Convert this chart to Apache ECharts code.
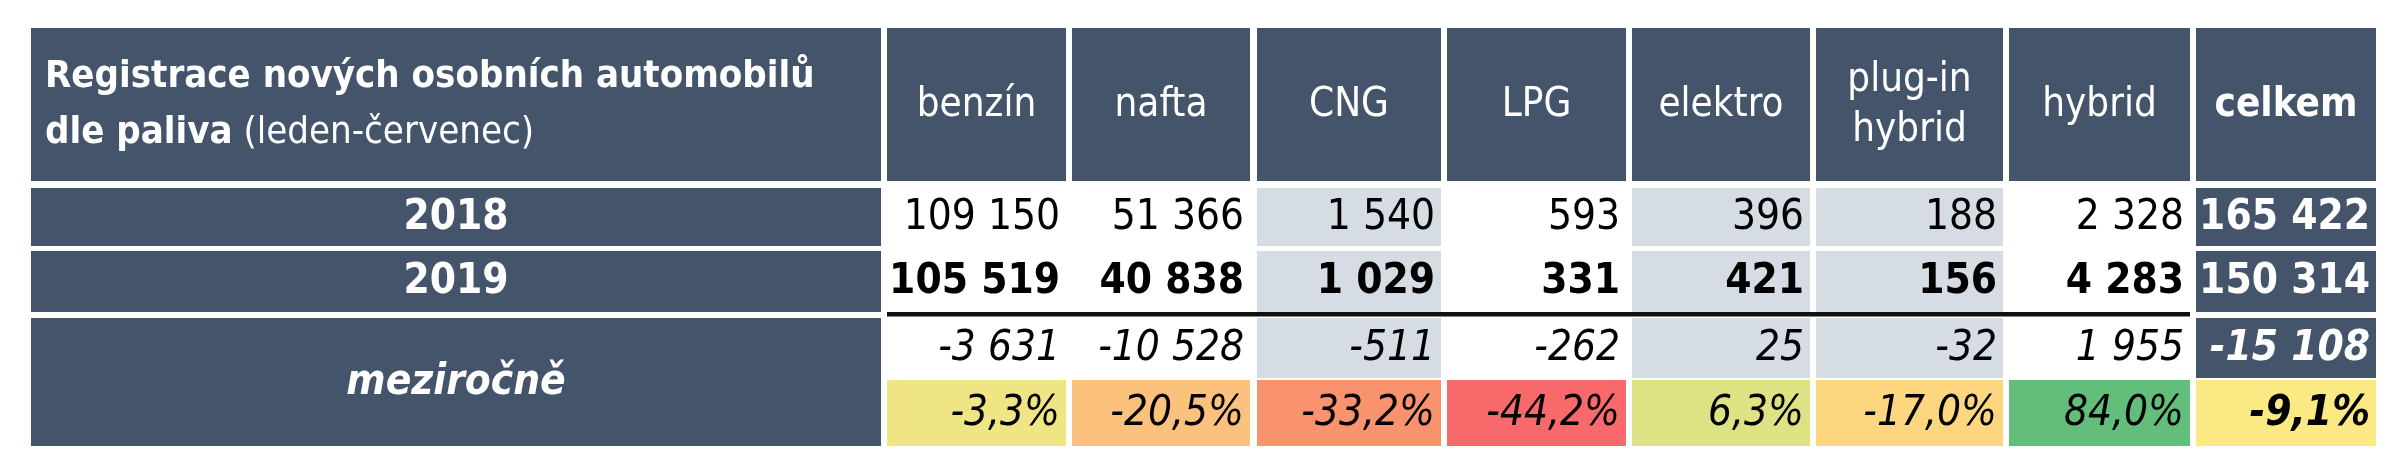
<!DOCTYPE html>
<html><head><meta charset="utf-8">
<script src="https://cdn.jsdelivr.net/npm/echarts@6/dist/echarts.min.js"></script>
<style>html,body{margin:0;padding:0;background:#fff}#c{width:2400px;height:467px}</style>
</head><body><div id="c"></div>
<script>
const categories = ['benzín','nafta','CNG','LPG','elektro','plug-in\nhybrid','hybrid','celkem'];
const rowLabels = ['2018','2019','meziročně'];
const values2018 = [109150,51366,1540,593,396,188,2328,165422];
const values2019 = [105519,40838,1029,331,421,156,4283,150314];
const diffs = [-3631,-10528,-511,-262,25,-32,1955,-15108];
const pcts = [-3.3,-20.5,-33.2,-44.2,6.3,-17.0,84.0,-9.1];
const pctColors = ['#EFE585','#FCC17D','#F8926F','#F8696B','#DDE283','#FED680','#63BE7B','#FBEA84'];
const shaded = [false,false,true,false,true,true,false,false];

// layout (in table units)
const colEdges = [[0,850],[856,1035],[1041,1219],[1226,1410],[1416,1595],[1601,1779],[1785,1972],[1978,2159],[2165,2345]];
const rowEdges = {head:[0,153],r18:[160,218],r19:[223,284],abs:[290,350],pct:[352,418]};
const NAVY='#44546A', GRAY='#D6DCE4';
const FONT='"Liberation Sans Narrow","DejaVu Sans Condensed",sans-serif';

function fmt(n){const s=Math.abs(n).toString().replace(/\B(?=(\d{3})+(?!\d))/g,' ');return (n<0?'-':'')+s;}
function fmtP(p){return (p<0?'-':'')+Math.abs(p).toFixed(1).replace('.',',')+'%';}

const cells=[];
function cell(c,r,text,o){cells.push({value:[colEdges[c][0],colEdges[c][1],r[0],r[1]],text:text,o:o});}
cell(0,rowEdges.head,'{b|Registrace nových osobních automobilů}\n{b|dle paliva} {n|(leden-červenec)}',{fill:NAVY,color:'#fff',align:'left',rich:true});
categories.forEach((c,i)=>cell(i+1,rowEdges.head,c,{fill:NAVY,color:'#fff',align:'center',bold:i===7,size:40}));
cell(0,rowEdges.r18,rowLabels[0],{fill:NAVY,color:'#fff',align:'center',bold:true});
cell(0,rowEdges.r19,rowLabels[1],{fill:NAVY,color:'#fff',align:'center',bold:true});
cell(0,[rowEdges.abs[0],rowEdges.pct[1]],rowLabels[2],{fill:NAVY,color:'#fff',align:'center',bold:true,italic:true});
for(let i=0;i<8;i++){
  const last=i===7;
  const bg=last?NAVY:(shaded[i]?GRAY:'#fff');
  const col=last?'#fff':'#000';
  cell(i+1,rowEdges.r18,fmt(values2018[i]),{fill:bg,color:col,align:'right',bold:last});
  cell(i+1,rowEdges.r19,fmt(values2019[i]),{fill:bg,color:col,align:'right',bold:true});
  cell(i+1,rowEdges.abs,fmt(diffs[i]),{fill:bg,color:col,align:'right',italic:true,bold:last});
  cell(i+1,rowEdges.pct,fmtP(pcts[i]),{fill:pctColors[i],color:'#000',align:'right',italic:true,bold:last});
}
cells.push({value:[colEdges[1][0],colEdges[7][1],284,288.5],text:'',o:{fill:'#111'}});

const chart=echarts.init(document.getElementById('c'));
chart.setOption({
  animation:false,
  grid:{left:31,right:24,top:28,bottom:21},
  xAxis:{type:'value',min:0,max:2345,show:false},
  yAxis:{type:'value',min:0,max:418,inverse:true,show:false},
  series:[{type:'custom',coordinateSystem:'cartesian2d',data:cells,
    renderItem:function(params,api){
      const d=cells[params.dataIndex];
      const p0=api.coord([d.value[0],d.value[2]]), p1=api.coord([d.value[1],d.value[3]]);
      const o=d.o;
      const ch=[{type:'rect',shape:{x:p0[0],y:p0[1],width:p1[0]-p0[0],height:p1[1]-p0[1]},style:{fill:o.fill}}];
      if(d.text){
        const x=o.align==='left'?p0[0]+14:o.align==='right'?p1[0]-6:(p0[0]+p1[0])/2;
        const st={x:x,y:(p0[1]+p1[1])/2+1,text:d.text,align:o.align,verticalAlign:'middle',fill:o.color,
          fontFamily:FONT,fontSize:o.size||42,fontWeight:o.bold?'bold':'normal',fontStyle:o.italic?'italic':'normal',lineHeight:o.size?50:48};
        if(o.rich){st.fontSize=38;st.lineHeight=56;st.rich={b:{fontWeight:'bold',fontSize:38,fill:'#fff',fontFamily:FONT},n:{fontSize:38,fill:'#fff',fontFamily:FONT}};}
        ch.push({type:'text',style:st});
      }
      return {type:'group',children:ch};
    }}]
});
</script></body></html>
